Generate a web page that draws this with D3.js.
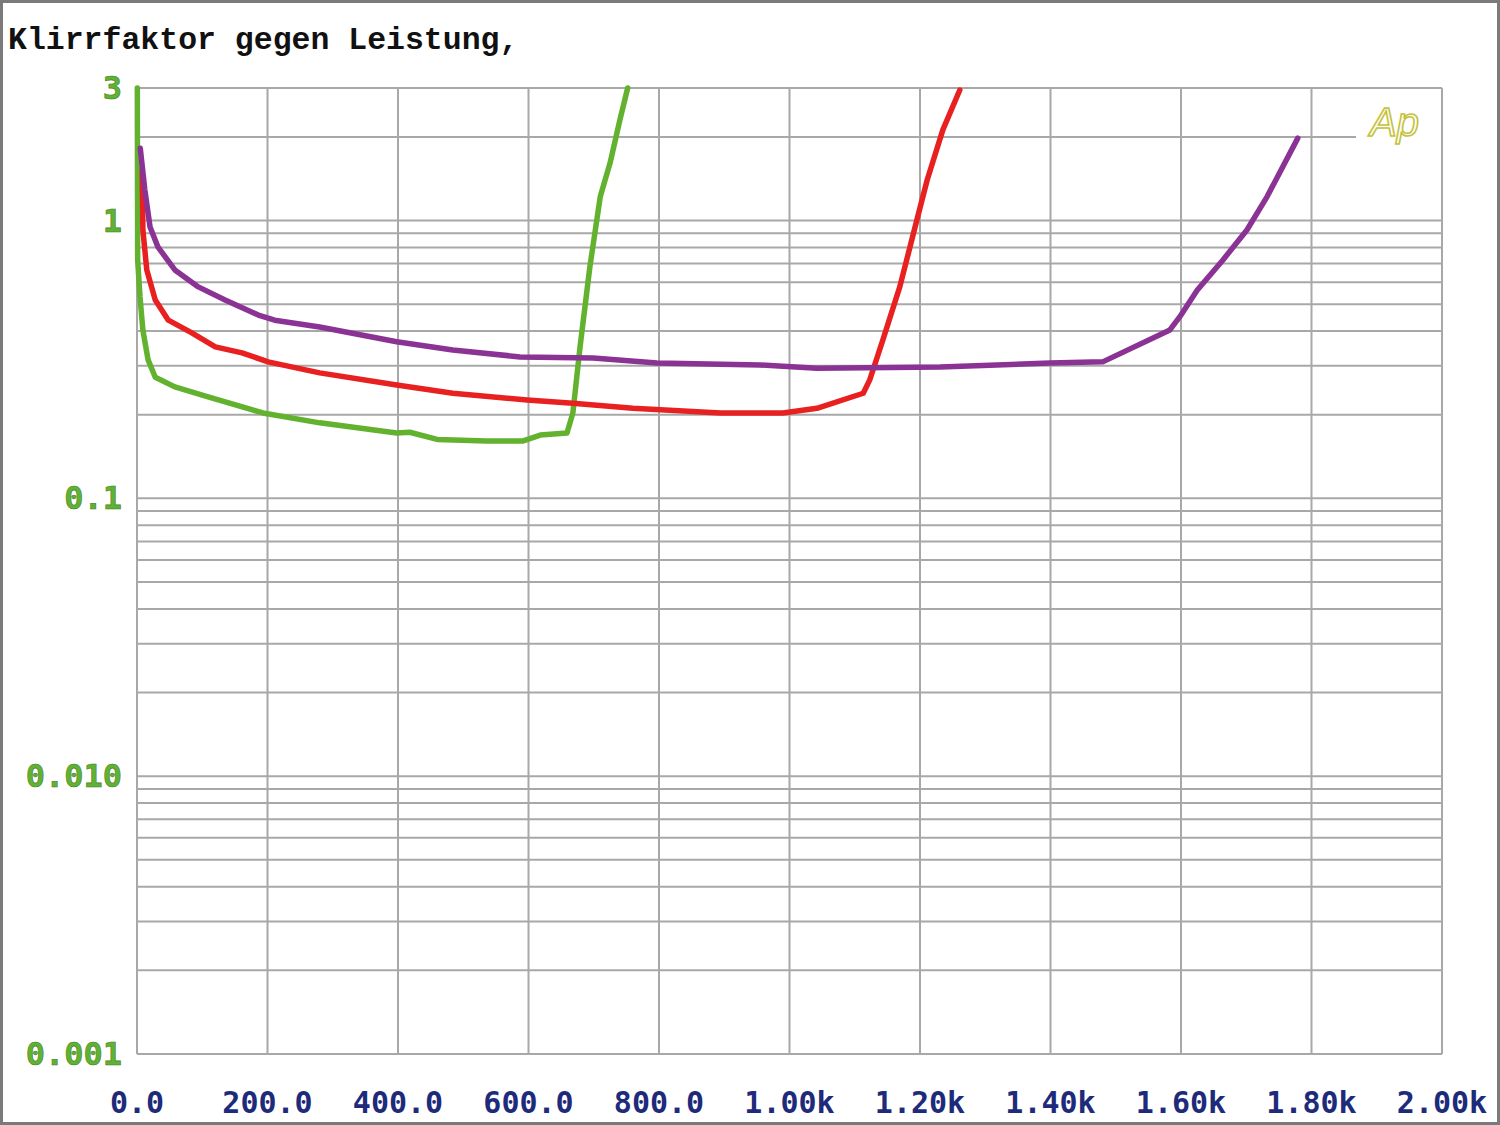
<!DOCTYPE html>
<html><head><meta charset="utf-8">
<script src="https://cdn.jsdelivr.net/npm/d3@7"></script>
<style>html,body{margin:0;padding:0;background:#fff;}svg{display:block;}</style>
</head><body>
<script>
// Data (power in W, THD in %)
const greenX = [0.5, 1, 4.6, 9, 17, 28, 58, 109, 193, 280, 398, 418, 460, 536, 592, 618, 659, 668, 679, 694, 710, 725, 740, 752];
const greenY = [3, 0.72, 0.531, 0.404, 0.315, 0.273, 0.252, 0.232, 0.203, 0.187, 0.172, 0.173, 0.163, 0.161, 0.161, 0.169, 0.172, 0.203, 0.351, 0.68, 1.22, 1.61, 2.30, 3];
const redX = [8, 9, 15, 28, 48, 84, 120, 161, 201, 280, 398, 484, 598, 668, 760, 894, 990, 1042, 1113, 1123, 1143, 1169, 1195, 1211, 1235, 1261];
const redY = [1.52, 0.925, 0.664, 0.518, 0.438, 0.394, 0.351, 0.334, 0.310, 0.283, 0.256, 0.239, 0.226, 0.220, 0.211, 0.203, 0.203, 0.211, 0.239, 0.267, 0.371, 0.577, 1.0, 1.40, 2.12, 2.95];
const purpleX = [5, 12, 20, 32, 58, 94, 135, 186, 211, 280, 398, 484, 587, 699, 797, 955, 1042, 1231, 1399, 1480, 1583, 1598, 1625, 1664, 1701, 1732, 1779];
const purpleY = [1.82, 1.29, 0.948, 0.804, 0.664, 0.577, 0.518, 0.457, 0.438, 0.414, 0.366, 0.342, 0.323, 0.320, 0.307, 0.302, 0.294, 0.297, 0.307, 0.310, 0.404, 0.450, 0.562, 0.72, 0.925, 1.22, 1.98];

const xTicks = [0, 200, 400, 600, 800, 1000, 1200, 1400, 1600, 1800, 2000];
const xTickLabels = ["0.0", "200.0", "400.0", "600.0", "800.0", "1.00k", "1.20k", "1.40k", "1.60k", "1.80k", "2.00k"];
const yTicks = [3, 1, 0.1, 0.01, 0.001];
const yTickLabels = ["3", "1", "0.1", "0.010", "0.001"];
const yGrid = [0.002,0.003,0.004,0.005,0.006,0.007,0.008,0.009,0.01,0.02,0.03,0.04,0.05,0.06,0.07,0.08,0.09,0.1,0.2,0.3,0.4,0.5,0.6,0.7,0.8,0.9,1,3];
const title = "Klirrfaktor gegen Leistung,";

const W = 1500, H = 1125;
const svg = d3.select("body").append("svg").attr("width", W).attr("height", H);
svg.append("rect").attr("x",1.5).attr("y",1.5).attr("width",W-3).attr("height",H-3)
  .attr("fill","#fff").attr("stroke","#7a7a7a").attr("stroke-width",3);

const x = d3.scaleLinear().domain([0, 2000]).range([137, 1442]);
const y = d3.scaleLog().domain([0.001, 3]).range([1054, 88]);

const grid = svg.append("g").attr("stroke","#a8a8a8").attr("stroke-width",2);
grid.selectAll(".v").data(xTicks).join("line")
  .attr("x1", d=>x(d)).attr("x2", d=>x(d)).attr("y1", y(3)).attr("y2", y(0.001));
grid.selectAll(".h").data(yGrid).join("line")
  .attr("x1", x(0)).attr("x2", x(2000)).attr("y1", d=>y(d)).attr("y2", d=>y(d));
grid.append("line").attr("x1", x(0)).attr("x2", 1356).attr("y1", y(2)).attr("y2", y(2));
grid.append("line").attr("x1", x(0)).attr("x2", x(2000)).attr("y1", y(0.001)).attr("y2", y(0.001));

const line = d3.line().x(d=>x(d[0])).y(d=>y(d[1]));
const series = [
  {xs: greenX, ys: greenY, c: "#62b22f"},
  {xs: redX, ys: redY, c: "#e82020"},
  {xs: purpleX, ys: purpleY, c: "#8a3394"}
];
series.forEach(s => {
  svg.append("path").datum(s.xs.map((v,i)=>[v, s.ys[i]]))
    .attr("d", line).attr("fill","none").attr("stroke", s.c)
    .attr("stroke-width",5.5).attr("stroke-linejoin","round").attr("stroke-linecap","round");
});

svg.append("text").attr("x", 8).attr("y", 49).text(title)
  .attr("font-family","'Liberation Mono', 'DejaVu Sans Mono', monospace").attr("font-weight","bold")
  .attr("font-size",31.5).attr("fill","#111");

svg.selectAll(".yl").data(yTicks).join("text")
  .attr("x", 122).attr("y", d=>y(d)+11).attr("text-anchor","end")
  .text((d,i)=>yTickLabels[i])
  .attr("font-family","'DejaVu Sans Mono', monospace").attr("font-weight","bold")
  .attr("font-size",32).attr("fill","#5fb332").attr("stroke","#4a7a2a").attr("stroke-width",0.6);

svg.selectAll(".xl").data(xTicks).join("text")
  .attr("x", d=>x(d)).attr("y", 1113).attr("text-anchor","middle")
  .text((d,i)=>xTickLabels[i])
  .attr("font-family","'DejaVu Sans Mono', monospace").attr("font-weight","bold")
  .attr("font-size",30).attr("fill","#1e2a7a");

svg.append("text").attr("x", 1370).attr("y", 136).text("Ap")
  .attr("font-family","'Liberation Sans', sans-serif").attr("font-style","italic")
  .attr("font-size",40).attr("fill","none").attr("stroke","#c4c23a").attr("stroke-width",1.6);
</script>
</body></html>
